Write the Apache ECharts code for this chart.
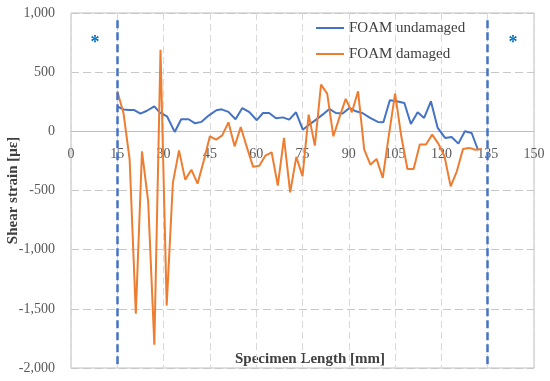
<!DOCTYPE html>
<html><head><meta charset="utf-8">
<script src="https://cdn.jsdelivr.net/npm/echarts@6/dist/echarts.min.js"></script>
<style>html,body{margin:0;padding:0;background:#fff}#c{width:550px;height:381px}</style>
</head><body><div id="c"></div>
<script>
const xTickLabels = [0,15,30,45,60,75,90,105,120,135,150];
const yTickLabels = [-2000,-1500,-1000,-500,0,500,1000];

const xUndamaged = [15.0,17.0,18.8,20.5,22.5,24.6,27.0,28.8,31.1,33.6,35.7,38.1,40.2,42.3,44.6,47.1,48.8,51.0,53.3,55.5,57.8,60.2,62.2,64.2,66.4,68.6,70.7,72.9,75.1,77.2,79.4,81.5,83.7,85.8,88.0,90.2,92.3,94.4,96.9,99.4,101.2,103.3,105.5,108.0,110.1,112.3,114.4,116.6,118.8,121.2,123.3,125.5,127.6,129.8,131.9];
const yUndamaged = [210,185,180,180,149,174,211,158,127,-5,102,102,68,80,133,178,186,164,102,197,162,94,155,155,110,118,99,161,14,57,99,141,189,155,150,198,169,155,113,79,76,262,254,240,62,161,113,254,29,-56,-48,-104,0,-14,-160];

const xDamaged = [15,17,19,21,23,25,27,29,31,33,35,37,39,41,43,45,47,49,51,53,55,57,59,61,63,65,67,69,71,73,75,77,79,81,83,85,87,89,91,93,95,97,99,101,103,105,107,109,111,113,115,117,119,121,123,125,127,129,131,133];
const yDamaged = [338,155,-240,-1541,-169,-592,-1803,690,-1471,-436,-161,-408,-324,-442,-250,-42,-70,-34,76,-127,37,-136,-300,-290,-205,-177,-459,-56,-516,-216,-380,141,-121,395,319,-42,120,274,161,338,-155,-282,-233,-394,-30,319,-42,-318,-318,-112,-112,-28,-104,-211,-465,-338,-149,-140,-155,-149];

const boundaryX = [15,135];

const FONT = 'Liberation Serif';
const GRID_TOP = 13, GRID_BOTTOM = 13, H = 381;
const plotH = H - GRID_TOP - GRID_BOTTOM;
// place the x axis line where y = 0 (y range -2000..1000)
const zeroOffset = -plotH * (2000 / 3000);

const chart = echarts.init(document.getElementById('c'));
chart.setOption({
  animation:false,
  textStyle:{fontFamily:FONT},
  grid:{left:71,right:16,top:GRID_TOP,bottom:GRID_BOTTOM,show:true,borderColor:'#bfbfbf',borderWidth:1,containLabel:false,outerBoundsMode:'none'},
  legend:{
    orient:'vertical',left:316,top:19,padding:0,itemWidth:28,itemHeight:2,itemGap:8,
    icon:'rect',
    textStyle:{fontFamily:FONT,fontSize:15,color:'#404040',lineHeight:18},
    data:['FOAM undamaged','FOAM damaged']
  },
  xAxis:{
    type:'value',min:0,max:150,interval:15,position:'bottom',offset:zeroOffset,
    axisLine:{onZero:false,lineStyle:{color:'#bfbfbf',width:1}},
    axisTick:{show:false},
    axisLabel:{color:'#595959',fontSize:14,margin:16,fontFamily:FONT,
      formatter:v=>xTickLabels.includes(v)?String(v):''},
    splitLine:{show:true,lineStyle:{color:'#d9d9d9',type:[7,4],width:1}}
  },
  yAxis:{
    type:'value',min:-2000,max:1000,interval:500,
    axisLine:{show:false,onZero:false},axisTick:{show:false},
    axisLabel:{color:'#595959',fontSize:14,margin:16,fontFamily:FONT,
      formatter:v=>yTickLabels.includes(v)?v.toLocaleString('en-US'):''},
    splitLine:{show:true,lineStyle:{color:'#c8c8c8',type:[8,4],width:1}},
    name:'Shear strain [με]',nameLocation:'middle',nameGap:50,nameRotate:90,nameMoveOverlap:false,
    nameTextStyle:{fontFamily:FONT,fontSize:15,fontWeight:'bold',color:'#404040'}
  },
  graphic:[
    {type:'text',x:310,y:359,style:{text:'Specimen Length [mm]',fill:'#404040',font:'bold 15px "Liberation Serif"',textAlign:'center',textVerticalAlign:'middle'}},
    {type:'text',x:95,y:43,style:{text:'*',fill:'#0070c0',font:'bold 18px "Liberation Serif"',textAlign:'center',textVerticalAlign:'middle'}},
    {type:'text',x:513,y:43,style:{text:'*',fill:'#0070c0',font:'bold 18px "Liberation Serif"',textAlign:'center',textVerticalAlign:'middle'}}
  ],
  series:[
    {name:'FOAM undamaged',type:'line',symbol:'none',
      data:xUndamaged.map((x,i)=>[x,yUndamaged[i]]),
      lineStyle:{color:'#4472c4',width:2},itemStyle:{color:'#4472c4'},z:3},
    {name:'FOAM damaged',type:'line',symbol:'none',
      data:xDamaged.map((x,i)=>[x,yDamaged[i]]),
      lineStyle:{color:'#ed7d31',width:2},itemStyle:{color:'#ed7d31'},z:4,
      markLine:{silent:true,symbol:'none',label:{show:false},
        lineStyle:{color:'#4472c4',width:2.5,type:[8,4]},
        data:boundaryX.map(x=>[{coord:[x,938]},{coord:[x,-2000]}])}}
  ]
});
</script></body></html>
